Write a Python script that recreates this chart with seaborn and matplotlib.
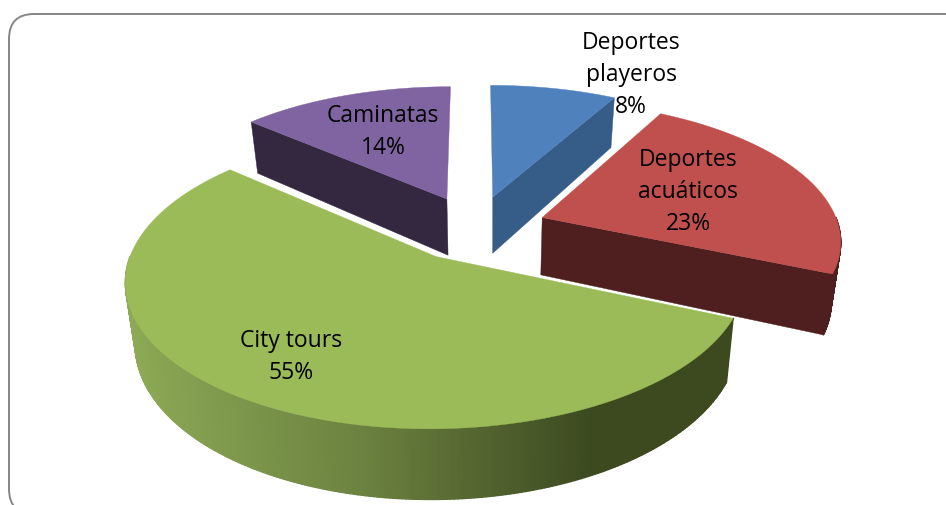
import numpy as np
import matplotlib
matplotlib.use("Agg")
import matplotlib.pyplot as plt
from matplotlib.patches import FancyBboxPatch
from matplotlib.collections import PolyCollection
import seaborn as sns

categories = ["Deportes\nplayeros", "Deportes\nacuáticos", "City tours", "Caminatas"]
shares = [8.05, 23.45, 54.9, 13.6]
top_colors = ["#4F81BD", "#C0504D", "#9BBB59", "#8064A2"]
side_colors = ["#365C88", "#4E1F1E", "#3D4A20", "#33283F"]
label_xy = [(631, 75), (688, 192), (291, 357), (383, 132)]

sns.set_theme(style="white")
plt.rcParams["font.family"] = ["Open Sans", "DejaVu Sans"]

W, H = 946, 506
CX, CY, RX, RY, K, EXPL, DEPTH = 475.5, 229, 297, 137, 0.149, 0.24, 58
VANISH_X, VANISH_PULL = 490, 0.027
green_side = sns.blend_palette(["#8CA955", "#6C8240", "#3D4A20"], 256)


def project(X, Y, drop=0.0):
    s = 1.0 / (1.0 + K * Y)
    x = CX + RX * X * s
    x = VANISH_X + (x - VANISH_X) * (1 - VANISH_PULL * drop / DEPTH)
    return x, CY - RY * Y * s + drop * s


fig = plt.figure(figsize=(W / 100, H / 100), dpi=100, facecolor="white")
ax = fig.add_axes([0, 0, 1, 1])
ax.set_xlim(0, W)
ax.set_ylim(H, 0)
ax.axis("off")
ax.add_patch(FancyBboxPatch((34, 40), 950, 450, boxstyle="round,pad=25,rounding_size=25",
                            fc="white", ec="#868686", lw=1.4))

fractions = np.array(shares) / sum(shares)
edges = np.concatenate([[0], np.cumsum(fractions)]) * 2 * np.pi
paint_order = [3, 0, 1, 2]

for i in paint_order:
    a0, a1 = edges[i], edges[i + 1]
    mid = (a0 + a1) / 2
    ax0, ay0 = EXPL * np.sin(mid), EXPL * np.cos(mid)
    th = np.linspace(a0, a1, 300)
    X = ax0 + np.sin(th)
    Y = ay0 + np.cos(th)
    # radial walls, only those that face the viewer
    for a, facing in ((a0, np.sin(a0) < -1e-6), (a1, np.sin(a1) > 1e-6)):
        if not facing:
            continue
        px, py = ax0 + np.sin(a), ay0 + np.cos(a)
        quad = [project(ax0, ay0), project(px, py), project(px, py, DEPTH), project(ax0, ay0, DEPTH)]
        ax.fill(*zip(*quad), color=side_colors[i], lw=0.3)
    # outer rim
    quads, cols = [], []
    for j in range(len(th) - 1):
        if np.cos((th[j] + th[j + 1]) / 2) > 0:
            continue
        q = [project(X[j], Y[j]), project(X[j + 1], Y[j + 1]),
             project(X[j + 1], Y[j + 1], DEPTH), project(X[j], Y[j], DEPTH)]
        quads.append(q)
        if categories[i] == "City tours":
            t = np.clip((q[0][0] - 130) / (590 - 130), 0, 1)
            cols.append(green_side[int(t * (len(green_side) - 1))])
        else:
            cols.append(side_colors[i])
    if quads:
        ax.add_collection(PolyCollection(quads, facecolors=cols, edgecolors=cols, linewidths=1.0))
    # top
    pts = [project(ax0, ay0)] + [project(x, y) for x, y in zip(X, Y)]
    ax.fill(*zip(*pts), color=top_colors[i], lw=0.3)

for name, val, (x, y) in zip(categories, shares, label_xy):
    ax.text(x, y, f"{name}\n{val:.0f}%", ha="center", va="center", fontsize=16.5,
            color="black", linespacing=1.47)

fig.savefig("out.png", dpi=100)
